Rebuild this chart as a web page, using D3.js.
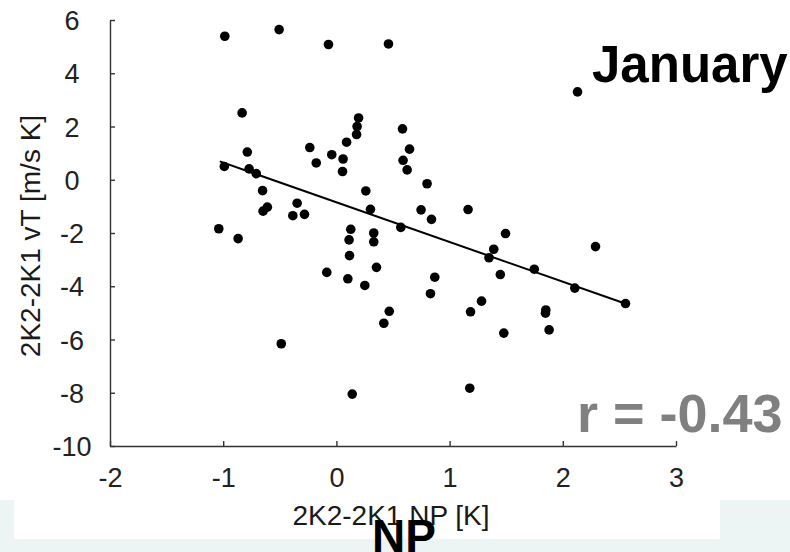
<!DOCTYPE html>
<html>
<head>
<meta charset="utf-8">
<script src="https://cdn.jsdelivr.net/npm/d3@7"></script>
<style>
  html, body { margin: 0; padding: 0; background: #fff; }
  svg { display: block; font-family: "Liberation Sans", Arial, Helvetica, sans-serif; }
</style>
</head>
<body>
<svg id="chart" width="790" height="552"></svg>
<script>
// ---- data ----
const npAnom = [-0.986,-0.506,-0.070,0.460,-0.833,-0.787,-0.990,-0.771,-0.708,-0.652,
  -0.610,-0.648,-0.347,-0.385,-0.282,-1.039,-0.868,-0.235,-0.178,-0.041,
  0.059,0.054,0.090,0.178,0.183,0.196,0.260,0.301,0.127,0.112,
  0.116,0.330,0.330,0.354,-0.085,0.101,0.251,0.467,0.419,-0.487,
  0.140,0.584,0.646,0.589,0.625,0.801,0.748,0.840,1.163,0.569,
  1.494,1.390,1.348,1.748,0.869,1.448,2.130,2.289,2.106,2.554,
  0.831,1.282,1.185,1.850,1.847,1.479,1.879,1.178];
const vtAnom = [5.39,5.64,5.08,5.10,2.51,1.04,0.50,0.41,0.23,-0.41,
  -1.03,-1.18,-0.88,-1.35,-1.30,-1.84,-2.21,1.21,0.63,0.94,
  0.78,0.31,1.41,1.70,2.00,2.32,-0.42,-1.11,-1.86,-2.26,
  -2.85,-2.00,-2.33,-3.29,-3.48,-3.72,-3.97,-4.94,-5.39,-6.16,
  -8.05,1.91,1.15,0.73,0.37,-0.15,-1.13,-1.49,-1.12,-1.79,
  -2.02,-2.61,-2.93,-3.36,-3.66,-3.56,3.30,-2.51,-4.07,-4.65,
  -4.28,-4.56,-4.96,-4.89,-5.01,-5.76,-5.64,-7.83];
const fitX = [-1.03, 2.55];
const fitY = [0.69, -4.65];
const xTicks = [-2, -1, 0, 1, 2, 3];
const yTicks = [-10, -8, -6, -4, -2, 0, 2, 4, 6];
const xLabel = "2K2-2K1 NP [K]";
const yLabel = "2K2-2K1 vT [m/s K]";
const monthLabel = "January";
const corrLabel = "r = -0.43";
const regionLabel = "NP";

// ---- drawing ----
const svg = d3.select("#chart");
const x = d3.scaleLinear().domain([-2, 3]).range([110, 676]);
const y = d3.scaleLinear().domain([-10, 6]).range([446, 20]);

// bottom pale band with white panel
svg.append("rect").attr("x", 0).attr("y", 500).attr("width", 790).attr("height", 52).attr("fill", "#ecf5f3");
svg.append("rect").attr("x", 14).attr("y", 500).attr("width", 706).attr("height", 39).attr("fill", "#ffffff");

const axisColor = "#333";
const tickColor = "#222";
const fmt = d => String(d);

const gy = svg.append("g").attr("transform", "translate(110,0)")
  .call(d3.axisLeft(y).tickValues(yTicks).tickSize(-5).tickSizeOuter(0).tickPadding(0).tickFormat(fmt));
gy.select(".domain").attr("stroke", axisColor).attr("stroke-width", 1.4);
gy.selectAll(".tick line").attr("stroke", axisColor).attr("stroke-width", 1.4);
gy.selectAll(".tick text")
  .attr("x", -38).attr("dy", "0.36em")
  .attr("text-anchor", "middle")
  .attr("fill", tickColor)
  .style("font-size", "27px")
  .style("font-family", "'Liberation Sans', Arial, sans-serif");

const gx = svg.append("g").attr("transform", "translate(0,446)")
  .call(d3.axisBottom(x).tickValues(xTicks).tickSize(-5).tickSizeOuter(0).tickPadding(0).tickFormat(fmt));
gx.select(".domain").attr("stroke", axisColor).attr("stroke-width", 1.4);
gx.selectAll(".tick line").attr("stroke", axisColor).attr("stroke-width", 1.4);
gx.selectAll(".tick text")
  .attr("y", 41).attr("dy", 0)
  .attr("text-anchor", "middle")
  .attr("fill", tickColor)
  .style("font-size", "27px")
  .style("font-family", "'Liberation Sans', Arial, sans-serif");

// axis labels
svg.append("text")
  .attr("transform", "translate(40,236) rotate(-90)")
  .attr("text-anchor", "middle")
  .attr("fill", "#1a1a1a")
  .style("font-size", "28px")
  .text(yLabel);

svg.append("text")
  .attr("x", 391).attr("y", 525)
  .attr("text-anchor", "middle")
  .attr("fill", "#1a1a1a")
  .style("font-size", "28px")
  .text(xLabel);

// points
const pts = npAnom.map((v, i) => ({ x: v, y: vtAnom[i] }));
svg.append("g").selectAll("circle").data(pts).join("circle")
  .attr("cx", d => x(d.x)).attr("cy", d => y(d.y)).attr("r", 4.8).attr("fill", "#000");

// regression line
const line = d3.line().x(d => x(d[0])).y(d => y(d[1]));
svg.append("path").datum(fitX.map((v, i) => [v, fitY[i]]))
  .attr("d", line).attr("stroke", "#000").attr("stroke-width", 2).attr("fill", "none");

// annotations
svg.append("text").attr("x", 592).attr("y", 82)
  .attr("fill", "#000").style("font-size", "51px").style("font-weight", "bold")
  .text(monthLabel);

svg.append("text").attr("x", 577).attr("y", 432)
  .attr("fill", "#808080").style("font-size", "54px").style("font-weight", "bold")
  .text(corrLabel);

svg.append("text").attr("x", 372).attr("y", 552)
  .attr("fill", "#000").style("font-size", "46px").style("font-weight", "bold")
  .text(regionLabel);
</script>
</body>
</html>
